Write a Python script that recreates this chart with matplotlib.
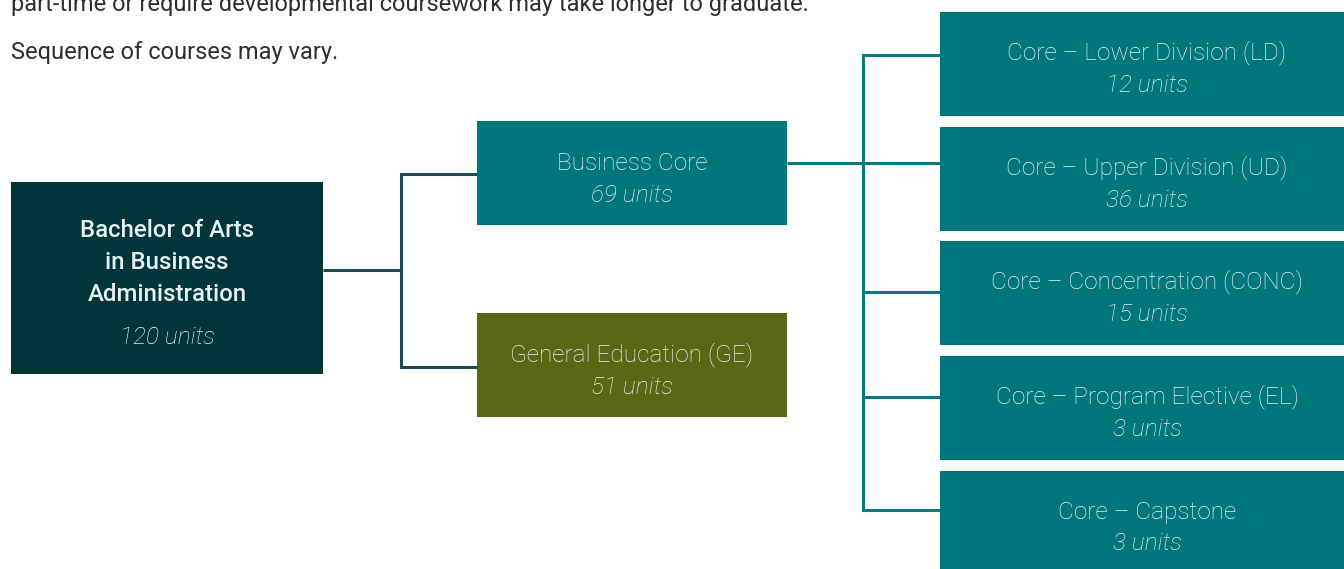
import matplotlib.pyplot as plt
from matplotlib.patches import Rectangle

### Data
root_lines = ["Bachelor of Arts", "in Business", "Administration"]
root_units = 120
mid_names = ["Business Core", "General Education (GE)"]
mid_units = [69, 51]
core_names = ["Core – Lower Division (LD)", "Core – Upper Division (UD)",
              "Core – Concentration (CONC)", "Core – Program Elective (EL)",
              "Core – Capstone"]
core_units = [12, 36, 15, 3, 3]
notes = ["part-time or require developmental coursework may take longer to graduate.",
         "Sequence of courses may vary."]

### Layout (pixels)
W, H = 1344, 569
root_box = (11, 182, 312, 192)
mid_x, mid_w, mid_h = 477, 310, 104
mid_y = [121, 313]
core_x, core_w, core_h = 940, 420, 104
core_y = [12, 127, 241, 356, 471]
core_line_y = [55, 163, 292, 397, 510]

dark = "#00363a"
teal = "#00767d"
olive = "#5b6614"
txt = "#e8f1f1"
font = "Roboto"
fs = 17.6

fig = plt.figure(figsize=(W / 100, H / 100), dpi=100)
ax = fig.add_axes([0, 0, 1, 1])
ax.set_xlim(0, W)
ax.set_ylim(H, 0)
ax.axis("off")

# notes at the top
ax.text(11, 4, notes[0], fontsize=17, family=font, color="#2e2e2e", va="center")
ax.text(11, 52, notes[1], fontsize=17, family=font, color="#2e2e2e", va="center")

# connectors root -> mid
rx, ry, rw, rh = root_box
ax.plot([rx + rw, 401], [270, 270], color="#1d4c52", lw=2.2, solid_capstyle="butt")
ax.plot([401, 401], [174, 367], color="#1d4c52", lw=2.2, solid_capstyle="projecting")
for y in [174, 367]:
    ax.plot([401, mid_x], [y, y], color="#1d4c52", lw=2.2, solid_capstyle="butt")

# connectors business core -> core boxes
vx = 863
ax.plot([mid_x + mid_w, core_x], [163, 163], color="#0b7a80", lw=2.2, solid_capstyle="butt")
ax.plot([vx, vx], [core_line_y[0], core_line_y[-1]], color="#0b7a80", lw=2.2,
        solid_capstyle="projecting")
for y in core_line_y:
    ax.plot([vx, core_x], [y, y], color="#0b7a80", lw=2.2, solid_capstyle="butt")

# root box
ax.add_patch(Rectangle((rx, ry), rw, rh, color=dark, lw=0))
for i, line in enumerate(root_lines):
    ax.text(rx + rw / 2, 230 + 32 * i, line, fontsize=17.3, family=font, weight="medium",
            color=txt, ha="center", va="center")
ax.text(rx + rw / 2, 337, f"{root_units} units", fontsize=fs, family=font, style="italic",
        weight="light", color=txt, ha="center", va="center")

# mid boxes
for name, u, y, c in zip(mid_names, mid_units, mid_y, [teal, olive]):
    ax.add_patch(Rectangle((mid_x, y), mid_w, mid_h, color=c, lw=0))
    ax.text(mid_x + mid_w / 2, y + 42, name, fontsize=fs, family=font, weight="light",
            color=txt, ha="center", va="center")
    ax.text(mid_x + mid_w / 2, y + 74, f"{u} units", fontsize=fs, family=font, weight="light",
            style="italic", color=txt, ha="center", va="center")

# core boxes
for name, u, y in zip(core_names, core_units, core_y):
    ax.add_patch(Rectangle((core_x, y), core_w, core_h, color=teal, lw=0))
    ax.text(1147, y + 41, name, fontsize=fs, family=font, weight="light",
            color=txt, ha="center", va="center")
    ax.text(1147, y + 73, f"{u} units", fontsize=fs, family=font, weight="light",
            style="italic", color=txt, ha="center", va="center")

fig.savefig("out.png", dpi=100, facecolor="white")
